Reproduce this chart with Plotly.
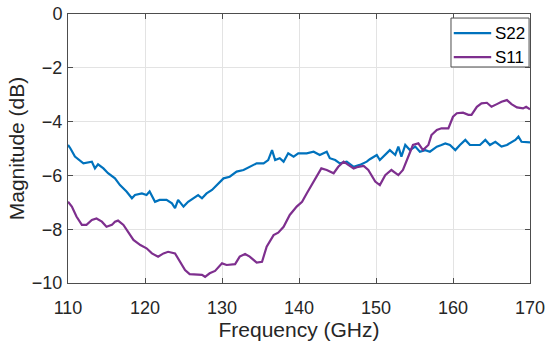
import plotly.graph_objects as go

s22_freq = [110.0, 110.3, 110.9, 112.0, 113.1, 113.5, 113.9, 114.6, 115.2, 116.1, 116.75, 117.6, 118.3, 118.7,
            119.6, 120.2, 120.6, 121.3, 121.9, 122.8, 123.5, 123.9, 124.3, 125.0, 125.6, 126.3, 126.9, 127.4,
            128.0, 128.7, 129.3, 130.2, 131.0, 131.9, 132.8, 133.6, 134.5, 135.4, 136.0, 136.5, 136.9, 137.5,
            138.0, 138.6, 139.3, 139.9, 141.0, 141.9, 142.7, 143.6, 144.0, 144.7, 145.3, 146.2, 147.1, 147.9,
            148.8, 149.2, 150.1, 150.5, 151.2, 151.8, 152.5, 152.9, 153.3, 153.8, 154.4, 155.1, 155.7, 156.4,
            157.0, 157.9, 158.5, 159.0, 159.6, 160.3, 160.9, 161.6, 162.2, 162.9, 163.5, 164.2, 164.8, 165.5,
            166.3, 167.0, 167.6, 168.1, 168.5, 168.9, 170.0]
s22_db = [-4.87, -4.99, -5.3, -5.55, -5.49, -5.74, -5.59, -5.74, -5.92, -6.11, -6.36, -6.6, -6.85, -6.73,
          -6.67, -6.73, -6.6, -6.98, -6.91, -6.91, -7.04, -7.22, -6.91, -7.16, -6.98, -6.85, -6.73, -6.85,
          -6.67, -6.54, -6.36, -6.11, -6.05, -5.86, -5.8, -5.68, -5.55, -5.55, -5.43, -5.06, -5.43, -5.36,
          -5.49, -5.18, -5.3, -5.18, -5.18, -5.12, -5.24, -5.12, -5.36, -5.43, -5.55, -5.49, -5.68, -5.61,
          -5.49, -5.4, -5.24, -5.43, -5.24, -5.06, -5.24, -4.93, -5.3, -4.87, -5.06, -4.93, -5.12, -5.06,
          -5.12, -4.93, -4.87, -4.81, -4.87, -5.06, -4.87, -4.68, -4.87, -4.87, -4.87, -4.68, -4.87, -4.75,
          -4.93, -4.87, -4.75, -4.68, -4.56, -4.75, -4.77]

s11_freq = [110.0, 110.5, 111.1, 111.8, 112.4, 113.1, 113.7, 114.4, 115.0, 115.7, 116.1, 116.5, 117.2, 117.8,
            118.5, 119.4, 120.2, 120.9, 121.7, 122.4, 123.0, 123.9, 124.5, 125.2, 125.8, 126.7, 127.4, 127.8,
            128.4, 129.1, 130.0, 130.6, 131.7, 132.3, 133.0, 133.6, 134.5, 135.2, 135.8, 136.7, 137.3, 138.0,
            138.8, 139.7, 140.4, 141.0, 141.6, 142.3, 142.9, 143.6, 144.5, 145.1, 145.8, 146.4, 147.1, 147.7,
            148.4, 149.0, 149.9, 150.5, 151.2, 152.0, 152.9, 153.5, 154.2, 154.8, 155.5, 156.1, 156.8, 157.2,
            157.9, 158.5, 159.4, 160.0, 160.5, 161.3, 162.0, 162.4, 163.1, 163.7, 164.4, 165.0, 165.7, 166.3,
            167.0, 167.6, 168.3, 169.1, 169.5, 170.0]
s11_db = [-6.98, -7.16, -7.53, -7.84, -7.84, -7.66, -7.6, -7.72, -7.91, -7.84, -7.72, -7.68, -7.84, -8.09,
          -8.4, -8.59, -8.71, -8.9, -9.02, -8.9, -8.84, -8.9, -9.21, -9.52, -9.67, -9.7, -9.7, -9.77,
          -9.64, -9.55, -9.27, -9.33, -9.3, -9.02, -8.92, -9.02, -9.24, -9.21, -8.65, -8.22, -8.13, -7.91,
          -7.47, -7.16, -6.98, -6.67, -6.36, -6.05, -5.74, -5.8, -5.92, -5.68, -5.49, -5.61, -5.74, -5.68,
          -5.65, -5.8, -6.23, -6.36, -5.99, -5.8, -5.99, -5.8, -5.3, -4.87, -4.81, -5.06, -4.87, -4.5,
          -4.31, -4.25, -4.25, -3.82, -3.69, -3.67, -3.75, -3.75, -3.45, -3.32, -3.3, -3.45, -3.35, -3.26,
          -3.2, -3.35, -3.47, -3.51, -3.45, -3.54]

series_names = ["S22", "S11"]
series_colors = ["#0072BD", "#7E2F8E"]

x_ticks = [110, 120, 130, 140, 150, 160, 170]
y_ticks = [-10, -8, -6, -4, -2, 0]

FONT = "Arial, Liberation Sans, sans-serif"
AX = "#262626"

fig = go.Figure()
for name, color, xs, ys in zip(series_names, series_colors, [s22_freq, s11_freq], [s22_db, s11_db]):
    fig.add_trace(go.Scatter(x=xs, y=ys, mode="lines", name=name,
                             line=dict(color=color, width=2.2), showlegend=False))

axis_common = dict(
    showline=True, linecolor="#4d4d4d", linewidth=1, mirror="ticks",
    ticks="inside", ticklen=5, tickcolor="#4d4d4d",
    showgrid=True, gridcolor="#e3e3e3", gridwidth=1,
    zeroline=False, tickfont=dict(family=FONT, size=18, color=AX),
    automargin=False,
)
fig.update_xaxes(range=[110, 170], tickvals=x_ticks, ticklabelstandoff=8,
                 title=dict(text="Frequency (GHz)", font=dict(family=FONT, size=21, color=AX), standoff=5),
                 **axis_common)
fig.update_yaxes(range=[-10, 0], tickvals=y_ticks, ticklabelstandoff=1,
                 title=dict(text="Magnitude (dB)", font=dict(family=FONT, size=21, color=AX), standoff=1),
                 **axis_common)

# legend box drawn in paper coordinates (top-right, inside the axes)
leg_x0, leg_x1, leg_y0, leg_y1 = 0.829, 0.998, 0.803, 0.985
row_y = [0.929, 0.840]
fig.add_shape(type="rect", xref="paper", yref="paper", x0=leg_x0, x1=leg_x1, y0=leg_y0, y1=leg_y1,
              line=dict(color="#4d4d4d", width=1), fillcolor="white", layer="above")
for name, color, ry in zip(series_names, series_colors, row_y):
    fig.add_shape(type="line", xref="paper", yref="paper", x0=0.835, x1=0.916, y0=ry, y1=ry,
                  line=dict(color=color, width=2.2), layer="above")
    fig.add_annotation(text=name, xref="paper", yref="paper", x=0.919, y=ry,
                       xanchor="left", yanchor="middle", showarrow=False,
                       font=dict(family=FONT, size=17, color="#000000"))

fig.update_layout(
    width=550, height=349,
    margin=dict(l=68, r=20, t=14, b=66),
    plot_bgcolor="white", paper_bgcolor="white",
    font=dict(family=FONT, color=AX),
    showlegend=False,
)

fig.write_html("out.html", config={"displayModeBar": False},
               post_script="document.body.style.margin='0';document.body.style.overflow='hidden';")
